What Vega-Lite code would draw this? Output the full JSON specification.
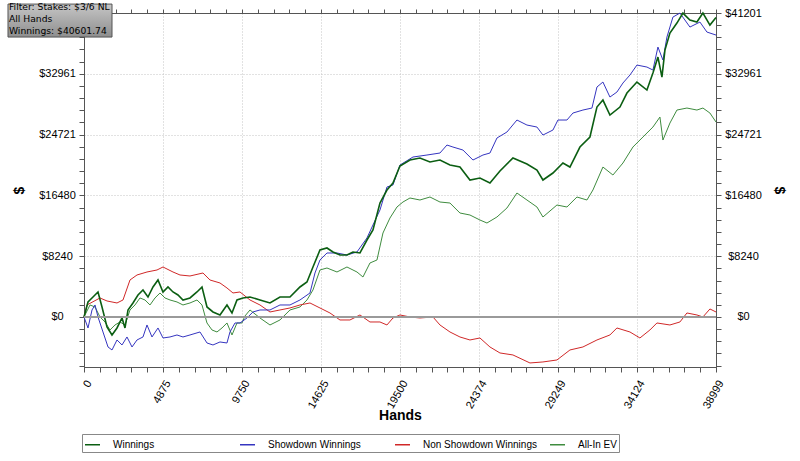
{
  "$schema": "https://vega.github.io/schema/vega-lite/v6.json",
  "width": 632,
  "height": 354,
  "autosize": {"type": "none"},
  "padding": {"left": 84, "top": 13, "right": 84, "bottom": 94},
  "background": "white",
  "config": {
    "font": "Liberation Sans",
    "view": {"stroke": "#555"},
    "axis": {
      "labelFont": "Liberation Sans",
      "labelFontSize": 11,
      "labelColor": "#000",
      "domainColor": "#555",
      "tickColor": "#555",
      "tickSize": 5,
      "gridColor": "#c4c4c4",
      "gridDash": [1, 2],
      "labelFlush": false,
      "labelOverlap": false,
      "titleFont": "Liberation Sans",
      "titleFontWeight": "bold",
      "titleFontSize": 14,
      "titleColor": "#000"
    }
  },
  "datasets": {
    "graph": [
      {"series": "All-In EV", "hands": 0, "dollars": 0},
      {"series": "All-In EV", "hands": 370, "dollars": 1626},
      {"series": "All-In EV", "hands": 679, "dollars": 1355},
      {"series": "All-In EV", "hands": 987, "dollars": 0},
      {"series": "All-In EV", "hands": 1296, "dollars": -678},
      {"series": "All-In EV", "hands": 1604, "dollars": -1762},
      {"series": "All-In EV", "hands": 1913, "dollars": -1084},
      {"series": "All-In EV", "hands": 2221, "dollars": -678},
      {"series": "All-In EV", "hands": 2530, "dollars": -1084},
      {"series": "All-In EV", "hands": 2838, "dollars": 949},
      {"series": "All-In EV", "hands": 3147, "dollars": 1626},
      {"series": "All-In EV", "hands": 3455, "dollars": 2575},
      {"series": "All-In EV", "hands": 3764, "dollars": 2304},
      {"series": "All-In EV", "hands": 4072, "dollars": 1626},
      {"series": "All-In EV", "hands": 4381, "dollars": 2575},
      {"series": "All-In EV", "hands": 4689, "dollars": 3252},
      {"series": "All-In EV", "hands": 4998, "dollars": 2575},
      {"series": "All-In EV", "hands": 5306, "dollars": 2304},
      {"series": "All-In EV", "hands": 5738, "dollars": 2033},
      {"series": "All-In EV", "hands": 6108, "dollars": 1626},
      {"series": "All-In EV", "hands": 6540, "dollars": 1897},
      {"series": "All-In EV", "hands": 6972, "dollars": 2304},
      {"series": "All-In EV", "hands": 7281, "dollars": 1626},
      {"series": "All-In EV", "hands": 7589, "dollars": -813},
      {"series": "All-In EV", "hands": 7898, "dollars": -1762},
      {"series": "All-In EV", "hands": 8206, "dollars": -2033},
      {"series": "All-In EV", "hands": 8515, "dollars": -1491},
      {"series": "All-In EV", "hands": 8823, "dollars": -813},
      {"series": "All-In EV", "hands": 9132, "dollars": -2439},
      {"series": "All-In EV", "hands": 9440, "dollars": -813},
      {"series": "All-In EV", "hands": 9749, "dollars": -813},
      {"series": "All-In EV", "hands": 9934, "dollars": 136},
      {"series": "All-In EV", "hands": 10242, "dollars": 949},
      {"series": "All-In EV", "hands": 10859, "dollars": -136},
      {"series": "All-In EV", "hands": 11476, "dollars": -1084},
      {"series": "All-In EV", "hands": 12093, "dollars": -407},
      {"series": "All-In EV", "hands": 12710, "dollars": 949},
      {"series": "All-In EV", "hands": 13327, "dollars": 1355},
      {"series": "All-In EV", "hands": 13759, "dollars": 2304},
      {"series": "All-In EV", "hands": 14129, "dollars": 3659},
      {"series": "All-In EV", "hands": 14561, "dollars": 6369},
      {"series": "All-In EV", "hands": 14993, "dollars": 6640},
      {"series": "All-In EV", "hands": 15610, "dollars": 6098},
      {"series": "All-In EV", "hands": 16227, "dollars": 6775},
      {"series": "All-In EV", "hands": 16844, "dollars": 6098},
      {"series": "All-In EV", "hands": 17214, "dollars": 5420},
      {"series": "All-In EV", "hands": 17646, "dollars": 7317},
      {"series": "All-In EV", "hands": 18078, "dollars": 7724},
      {"series": "All-In EV", "hands": 18448, "dollars": 11382},
      {"series": "All-In EV", "hands": 18880, "dollars": 13415},
      {"series": "All-In EV", "hands": 19312, "dollars": 14905},
      {"series": "All-In EV", "hands": 19682, "dollars": 15583},
      {"series": "All-In EV", "hands": 20114, "dollars": 16125},
      {"series": "All-In EV", "hands": 20731, "dollars": 15854},
      {"series": "All-In EV", "hands": 21348, "dollars": 16260},
      {"series": "All-In EV", "hands": 21965, "dollars": 15583},
      {"series": "All-In EV", "hands": 22582, "dollars": 15447},
      {"series": "All-In EV", "hands": 23199, "dollars": 14092},
      {"series": "All-In EV", "hands": 23816, "dollars": 13821},
      {"series": "All-In EV", "hands": 24433, "dollars": 13144},
      {"series": "All-In EV", "hands": 24865, "dollars": 12737},
      {"series": "All-In EV", "hands": 25482, "dollars": 13550},
      {"series": "All-In EV", "hands": 26099, "dollars": 14770},
      {"series": "All-In EV", "hands": 26716, "dollars": 16802},
      {"series": "All-In EV", "hands": 27333, "dollars": 15854},
      {"series": "All-In EV", "hands": 27950, "dollars": 14905},
      {"series": "All-In EV", "hands": 28320, "dollars": 13550},
      {"series": "All-In EV", "hands": 29184, "dollars": 15176},
      {"series": "All-In EV", "hands": 29801, "dollars": 14905},
      {"series": "All-In EV", "hands": 30418, "dollars": 16260},
      {"series": "All-In EV", "hands": 31035, "dollars": 15854},
      {"series": "All-In EV", "hands": 31405, "dollars": 17209},
      {"series": "All-In EV", "hands": 32022, "dollars": 20325},
      {"series": "All-In EV", "hands": 32639, "dollars": 19241},
      {"series": "All-In EV", "hands": 33256, "dollars": 20867},
      {"series": "All-In EV", "hands": 33873, "dollars": 23035},
      {"series": "All-In EV", "hands": 34490, "dollars": 24390},
      {"series": "All-In EV", "hands": 35107, "dollars": 25745},
      {"series": "All-In EV", "hands": 35539, "dollars": 27100},
      {"series": "All-In EV", "hands": 35724, "dollars": 23984},
      {"series": "All-In EV", "hands": 36156, "dollars": 26287},
      {"series": "All-In EV", "hands": 36588, "dollars": 28049},
      {"series": "All-In EV", "hands": 37205, "dollars": 28320},
      {"series": "All-In EV", "hands": 37822, "dollars": 28049},
      {"series": "All-In EV", "hands": 38192, "dollars": 28320},
      {"series": "All-In EV", "hands": 38624, "dollars": 27642},
      {"series": "All-In EV", "hands": 38999, "dollars": 26423},

      {"series": "Non Showdown Winnings", "hands": 0, "dollars": 0},
      {"series": "Non Showdown Winnings", "hands": 185, "dollars": 1626},
      {"series": "Non Showdown Winnings", "hands": 987, "dollars": 2575},
      {"series": "Non Showdown Winnings", "hands": 1419, "dollars": 2168},
      {"series": "Non Showdown Winnings", "hands": 2036, "dollars": 1897},
      {"series": "Non Showdown Winnings", "hands": 2406, "dollars": 2304},
      {"series": "Non Showdown Winnings", "hands": 2838, "dollars": 5014},
      {"series": "Non Showdown Winnings", "hands": 3270, "dollars": 5691},
      {"series": "Non Showdown Winnings", "hands": 3887, "dollars": 6098},
      {"series": "Non Showdown Winnings", "hands": 4504, "dollars": 6369},
      {"series": "Non Showdown Winnings", "hands": 4874, "dollars": 6775},
      {"series": "Non Showdown Winnings", "hands": 5491, "dollars": 6098},
      {"series": "Non Showdown Winnings", "hands": 5923, "dollars": 5691},
      {"series": "Non Showdown Winnings", "hands": 6540, "dollars": 5556},
      {"series": "Non Showdown Winnings", "hands": 7342, "dollars": 5962},
      {"series": "Non Showdown Winnings", "hands": 7774, "dollars": 5014},
      {"series": "Non Showdown Winnings", "hands": 8391, "dollars": 4608},
      {"series": "Non Showdown Winnings", "hands": 8823, "dollars": 3930},
      {"series": "Non Showdown Winnings", "hands": 9193, "dollars": 3253},
      {"series": "Non Showdown Winnings", "hands": 9625, "dollars": 3388},
      {"series": "Non Showdown Winnings", "hands": 10242, "dollars": 2304},
      {"series": "Non Showdown Winnings", "hands": 10859, "dollars": 1626},
      {"series": "Non Showdown Winnings", "hands": 11476, "dollars": 678},
      {"series": "Non Showdown Winnings", "hands": 12093, "dollars": 949},
      {"series": "Non Showdown Winnings", "hands": 12710, "dollars": 1220},
      {"series": "Non Showdown Winnings", "hands": 13327, "dollars": 1626},
      {"series": "Non Showdown Winnings", "hands": 13944, "dollars": 1897},
      {"series": "Non Showdown Winnings", "hands": 14561, "dollars": 1220},
      {"series": "Non Showdown Winnings", "hands": 15178, "dollars": 542},
      {"series": "Non Showdown Winnings", "hands": 15795, "dollars": -407},
      {"series": "Non Showdown Winnings", "hands": 16412, "dollars": -407},
      {"series": "Non Showdown Winnings", "hands": 17029, "dollars": 271},
      {"series": "Non Showdown Winnings", "hands": 17646, "dollars": -678},
      {"series": "Non Showdown Winnings", "hands": 18263, "dollars": -678},
      {"series": "Non Showdown Winnings", "hands": 18695, "dollars": -1084},
      {"series": "Non Showdown Winnings", "hands": 19065, "dollars": -136},
      {"series": "Non Showdown Winnings", "hands": 19497, "dollars": 271},
      {"series": "Non Showdown Winnings", "hands": 20114, "dollars": 0},
      {"series": "Non Showdown Winnings", "hands": 20731, "dollars": -136},
      {"series": "Non Showdown Winnings", "hands": 21533, "dollars": 0},
      {"series": "Non Showdown Winnings", "hands": 21965, "dollars": -1084},
      {"series": "Non Showdown Winnings", "hands": 22582, "dollars": -2033},
      {"series": "Non Showdown Winnings", "hands": 23199, "dollars": -2710},
      {"series": "Non Showdown Winnings", "hands": 23816, "dollars": -3117},
      {"series": "Non Showdown Winnings", "hands": 24433, "dollars": -2846},
      {"series": "Non Showdown Winnings", "hands": 25050, "dollars": -4065},
      {"series": "Non Showdown Winnings", "hands": 25667, "dollars": -4878},
      {"series": "Non Showdown Winnings", "hands": 26469, "dollars": -5149},
      {"series": "Non Showdown Winnings", "hands": 27518, "dollars": -6233},
      {"series": "Non Showdown Winnings", "hands": 28320, "dollars": -6098},
      {"series": "Non Showdown Winnings", "hands": 29184, "dollars": -5827},
      {"series": "Non Showdown Winnings", "hands": 29986, "dollars": -4472},
      {"series": "Non Showdown Winnings", "hands": 30788, "dollars": -4065},
      {"series": "Non Showdown Winnings", "hands": 31652, "dollars": -3117},
      {"series": "Non Showdown Winnings", "hands": 32454, "dollars": -2439},
      {"series": "Non Showdown Winnings", "hands": 32886, "dollars": -1491},
      {"series": "Non Showdown Winnings", "hands": 33688, "dollars": -2033},
      {"series": "Non Showdown Winnings", "hands": 34305, "dollars": -2846},
      {"series": "Non Showdown Winnings", "hands": 34922, "dollars": -1762},
      {"series": "Non Showdown Winnings", "hands": 35354, "dollars": -813},
      {"series": "Non Showdown Winnings", "hands": 36156, "dollars": -1084},
      {"series": "Non Showdown Winnings", "hands": 36773, "dollars": -678},
      {"series": "Non Showdown Winnings", "hands": 37205, "dollars": 542},
      {"series": "Non Showdown Winnings", "hands": 37822, "dollars": 271},
      {"series": "Non Showdown Winnings", "hands": 38192, "dollars": 0},
      {"series": "Non Showdown Winnings", "hands": 38624, "dollars": 1084},
      {"series": "Non Showdown Winnings", "hands": 38999, "dollars": 678},

      {"series": "Showdown Winnings", "hands": 0, "dollars": 0},
      {"series": "Showdown Winnings", "hands": 247, "dollars": -1491},
      {"series": "Showdown Winnings", "hands": 494, "dollars": 949},
      {"series": "Showdown Winnings", "hands": 679, "dollars": 1626},
      {"series": "Showdown Winnings", "hands": 864, "dollars": 0},
      {"series": "Showdown Winnings", "hands": 1172, "dollars": -2033},
      {"series": "Showdown Winnings", "hands": 1481, "dollars": -4065},
      {"series": "Showdown Winnings", "hands": 1728, "dollars": -4472},
      {"series": "Showdown Winnings", "hands": 2036, "dollars": -3117},
      {"series": "Showdown Winnings", "hands": 2345, "dollars": -3794},
      {"series": "Showdown Winnings", "hands": 2653, "dollars": -2710},
      {"series": "Showdown Winnings", "hands": 2962, "dollars": -4065},
      {"series": "Showdown Winnings", "hands": 3270, "dollars": -3117},
      {"series": "Showdown Winnings", "hands": 3640, "dollars": -2710},
      {"series": "Showdown Winnings", "hands": 3887, "dollars": -1084},
      {"series": "Showdown Winnings", "hands": 4196, "dollars": -2710},
      {"series": "Showdown Winnings", "hands": 4566, "dollars": -1491},
      {"series": "Showdown Winnings", "hands": 4874, "dollars": -2846},
      {"series": "Showdown Winnings", "hands": 5306, "dollars": -2710},
      {"series": "Showdown Winnings", "hands": 5738, "dollars": -2439},
      {"series": "Showdown Winnings", "hands": 6108, "dollars": -2710},
      {"series": "Showdown Winnings", "hands": 6540, "dollars": -2439},
      {"series": "Showdown Winnings", "hands": 7157, "dollars": -2033},
      {"series": "Showdown Winnings", "hands": 7589, "dollars": -3523},
      {"series": "Showdown Winnings", "hands": 7959, "dollars": -3794},
      {"series": "Showdown Winnings", "hands": 8391, "dollars": -3388},
      {"series": "Showdown Winnings", "hands": 8823, "dollars": -3523},
      {"series": "Showdown Winnings", "hands": 9008, "dollars": -2033},
      {"series": "Showdown Winnings", "hands": 9317, "dollars": -813},
      {"series": "Showdown Winnings", "hands": 9625, "dollars": -813},
      {"series": "Showdown Winnings", "hands": 10057, "dollars": -136},
      {"series": "Showdown Winnings", "hands": 10427, "dollars": 678},
      {"series": "Showdown Winnings", "hands": 10859, "dollars": 949},
      {"series": "Showdown Winnings", "hands": 11476, "dollars": 949},
      {"series": "Showdown Winnings", "hands": 12093, "dollars": 1626},
      {"series": "Showdown Winnings", "hands": 12710, "dollars": 1626},
      {"series": "Showdown Winnings", "hands": 13327, "dollars": 2304},
      {"series": "Showdown Winnings", "hands": 13944, "dollars": 3252},
      {"series": "Showdown Winnings", "hands": 14253, "dollars": 5962},
      {"series": "Showdown Winnings", "hands": 14561, "dollars": 7724},
      {"series": "Showdown Winnings", "hands": 14993, "dollars": 8672},
      {"series": "Showdown Winnings", "hands": 15610, "dollars": 8672},
      {"series": "Showdown Winnings", "hands": 16227, "dollars": 8401},
      {"series": "Showdown Winnings", "hands": 16844, "dollars": 8808},
      {"series": "Showdown Winnings", "hands": 17461, "dollars": 10705},
      {"series": "Showdown Winnings", "hands": 17831, "dollars": 12466},
      {"series": "Showdown Winnings", "hands": 18263, "dollars": 14499},
      {"series": "Showdown Winnings", "hands": 18695, "dollars": 17615},
      {"series": "Showdown Winnings", "hands": 19065, "dollars": 17886},
      {"series": "Showdown Winnings", "hands": 19497, "dollars": 20596},
      {"series": "Showdown Winnings", "hands": 20299, "dollars": 21680},
      {"series": "Showdown Winnings", "hands": 21163, "dollars": 21951},
      {"series": "Showdown Winnings", "hands": 21965, "dollars": 22222},
      {"series": "Showdown Winnings", "hands": 22397, "dollars": 23306},
      {"series": "Showdown Winnings", "hands": 22767, "dollars": 23035},
      {"series": "Showdown Winnings", "hands": 23384, "dollars": 22629},
      {"series": "Showdown Winnings", "hands": 24001, "dollars": 21274},
      {"series": "Showdown Winnings", "hands": 24618, "dollars": 21951},
      {"series": "Showdown Winnings", "hands": 25050, "dollars": 22222},
      {"series": "Showdown Winnings", "hands": 25482, "dollars": 24255},
      {"series": "Showdown Winnings", "hands": 26099, "dollars": 25068},
      {"series": "Showdown Winnings", "hands": 26716, "dollars": 26694},
      {"series": "Showdown Winnings", "hands": 27333, "dollars": 26016},
      {"series": "Showdown Winnings", "hands": 27950, "dollars": 25745},
      {"series": "Showdown Winnings", "hands": 28320, "dollars": 24661},
      {"series": "Showdown Winnings", "hands": 28937, "dollars": 25339},
      {"series": "Showdown Winnings", "hands": 29246, "dollars": 26694},
      {"series": "Showdown Winnings", "hands": 29801, "dollars": 26694},
      {"series": "Showdown Winnings", "hands": 30171, "dollars": 27642},
      {"series": "Showdown Winnings", "hands": 30788, "dollars": 28049},
      {"series": "Showdown Winnings", "hands": 31344, "dollars": 28320},
      {"series": "Showdown Winnings", "hands": 31652, "dollars": 31165},
      {"series": "Showdown Winnings", "hands": 32022, "dollars": 31843},
      {"series": "Showdown Winnings", "hands": 32454, "dollars": 29810},
      {"series": "Showdown Winnings", "hands": 32886, "dollars": 30488},
      {"series": "Showdown Winnings", "hands": 33256, "dollars": 31707},
      {"series": "Showdown Winnings", "hands": 33688, "dollars": 32791},
      {"series": "Showdown Winnings", "hands": 34120, "dollars": 34146},
      {"series": "Showdown Winnings", "hands": 34737, "dollars": 33875},
      {"series": "Showdown Winnings", "hands": 35107, "dollars": 33469},
      {"series": "Showdown Winnings", "hands": 35416, "dollars": 36585},
      {"series": "Showdown Winnings", "hands": 35724, "dollars": 34824},
      {"series": "Showdown Winnings", "hands": 35971, "dollars": 37940},
      {"series": "Showdown Winnings", "hands": 36341, "dollars": 40650},
      {"series": "Showdown Winnings", "hands": 36773, "dollars": 41192},
      {"series": "Showdown Winnings", "hands": 37390, "dollars": 39295},
      {"series": "Showdown Winnings", "hands": 38007, "dollars": 39973},
      {"series": "Showdown Winnings", "hands": 38439, "dollars": 38618},
      {"series": "Showdown Winnings", "hands": 38999, "dollars": 38211},

      {"series": "Winnings", "hands": 0, "dollars": 0},
      {"series": "Winnings", "hands": 247, "dollars": 2033},
      {"series": "Winnings", "hands": 555, "dollars": 2710},
      {"series": "Winnings", "hands": 864, "dollars": 3388},
      {"series": "Winnings", "hands": 1111, "dollars": 1355},
      {"series": "Winnings", "hands": 1419, "dollars": -1355},
      {"series": "Winnings", "hands": 1728, "dollars": -2439},
      {"series": "Winnings", "hands": 2036, "dollars": -1491},
      {"series": "Winnings", "hands": 2345, "dollars": -136},
      {"series": "Winnings", "hands": 2530, "dollars": -1491},
      {"series": "Winnings", "hands": 2715, "dollars": 949},
      {"series": "Winnings", "hands": 3023, "dollars": 1897},
      {"series": "Winnings", "hands": 3332, "dollars": 2981},
      {"series": "Winnings", "hands": 3640, "dollars": 3659},
      {"series": "Winnings", "hands": 3949, "dollars": 2710},
      {"series": "Winnings", "hands": 4257, "dollars": 4065},
      {"series": "Winnings", "hands": 4566, "dollars": 5014},
      {"series": "Winnings", "hands": 4874, "dollars": 3388},
      {"series": "Winnings", "hands": 5183, "dollars": 4065},
      {"series": "Winnings", "hands": 5491, "dollars": 3388},
      {"series": "Winnings", "hands": 5800, "dollars": 2981},
      {"series": "Winnings", "hands": 6108, "dollars": 2304},
      {"series": "Winnings", "hands": 6540, "dollars": 2575},
      {"series": "Winnings", "hands": 6972, "dollars": 3388},
      {"series": "Winnings", "hands": 7281, "dollars": 4065},
      {"series": "Winnings", "hands": 7589, "dollars": 1355},
      {"series": "Winnings", "hands": 7959, "dollars": 678},
      {"series": "Winnings", "hands": 8391, "dollars": 271},
      {"series": "Winnings", "hands": 8823, "dollars": 1626},
      {"series": "Winnings", "hands": 9132, "dollars": 542},
      {"series": "Winnings", "hands": 9440, "dollars": 2304},
      {"series": "Winnings", "hands": 9810, "dollars": 2575},
      {"series": "Winnings", "hands": 10242, "dollars": 2710},
      {"series": "Winnings", "hands": 10859, "dollars": 2304},
      {"series": "Winnings", "hands": 11476, "dollars": 1897},
      {"series": "Winnings", "hands": 12093, "dollars": 2710},
      {"series": "Winnings", "hands": 12710, "dollars": 2710},
      {"series": "Winnings", "hands": 13327, "dollars": 4065},
      {"series": "Winnings", "hands": 13759, "dollars": 4743},
      {"series": "Winnings", "hands": 14129, "dollars": 6775},
      {"series": "Winnings", "hands": 14561, "dollars": 9079},
      {"series": "Winnings", "hands": 14993, "dollars": 9350},
      {"series": "Winnings", "hands": 15363, "dollars": 8808},
      {"series": "Winnings", "hands": 15795, "dollars": 8401},
      {"series": "Winnings", "hands": 16227, "dollars": 8401},
      {"series": "Winnings", "hands": 16597, "dollars": 8808},
      {"series": "Winnings", "hands": 17029, "dollars": 8672},
      {"series": "Winnings", "hands": 17461, "dollars": 10434},
      {"series": "Winnings", "hands": 17831, "dollars": 11789},
      {"series": "Winnings", "hands": 18263, "dollars": 15447},
      {"series": "Winnings", "hands": 18695, "dollars": 17209},
      {"series": "Winnings", "hands": 19065, "dollars": 18157},
      {"series": "Winnings", "hands": 19497, "dollars": 20461},
      {"series": "Winnings", "hands": 20114, "dollars": 21274},
      {"series": "Winnings", "hands": 20731, "dollars": 21545},
      {"series": "Winnings", "hands": 21348, "dollars": 21003},
      {"series": "Winnings", "hands": 21965, "dollars": 21274},
      {"series": "Winnings", "hands": 22582, "dollars": 20596},
      {"series": "Winnings", "hands": 23199, "dollars": 20325},
      {"series": "Winnings", "hands": 23816, "dollars": 18564},
      {"series": "Winnings", "hands": 24433, "dollars": 18835},
      {"series": "Winnings", "hands": 25050, "dollars": 18157},
      {"series": "Winnings", "hands": 25667, "dollars": 19783},
      {"series": "Winnings", "hands": 26469, "dollars": 21545},
      {"series": "Winnings", "hands": 27333, "dollars": 20732},
      {"series": "Winnings", "hands": 27950, "dollars": 19919},
      {"series": "Winnings", "hands": 28320, "dollars": 18564},
      {"series": "Winnings", "hands": 28937, "dollars": 19512},
      {"series": "Winnings", "hands": 29554, "dollars": 20867},
      {"series": "Winnings", "hands": 29986, "dollars": 20325},
      {"series": "Winnings", "hands": 30603, "dollars": 23035},
      {"series": "Winnings", "hands": 31220, "dollars": 24390},
      {"series": "Winnings", "hands": 31652, "dollars": 28455},
      {"series": "Winnings", "hands": 32022, "dollars": 29404},
      {"series": "Winnings", "hands": 32454, "dollars": 27371},
      {"series": "Winnings", "hands": 33071, "dollars": 28455},
      {"series": "Winnings", "hands": 33503, "dollars": 30352},
      {"series": "Winnings", "hands": 34120, "dollars": 31843},
      {"series": "Winnings", "hands": 34737, "dollars": 30759},
      {"series": "Winnings", "hands": 35107, "dollars": 33062},
      {"series": "Winnings", "hands": 35416, "dollars": 35230},
      {"series": "Winnings", "hands": 35663, "dollars": 32520},
      {"series": "Winnings", "hands": 35848, "dollars": 36179},
      {"series": "Winnings", "hands": 36156, "dollars": 38482},
      {"series": "Winnings", "hands": 36588, "dollars": 39837},
      {"series": "Winnings", "hands": 36958, "dollars": 41192},
      {"series": "Winnings", "hands": 37390, "dollars": 40244},
      {"series": "Winnings", "hands": 37822, "dollars": 39973},
      {"series": "Winnings", "hands": 38192, "dollars": 41192},
      {"series": "Winnings", "hands": 38624, "dollars": 39566},
      {"series": "Winnings", "hands": 38999, "dollars": 40601.74}
    ]
  },
  "layer": [
    {
      "data": {"name": "graph"},
      "mark": {"type": "line"},
      "encoding": {
        "x": {
          "field": "hands",
          "type": "quantitative",
          "scale": {"domain": [0, 38999], "nice": false, "zero": false},
          "axis": {
            "orient": "bottom",
            "title": "Hands",
            "values": [0, 974.975, 1949.95, 2924.925, 3899.9, 4874.875, 5849.85, 6824.825, 7799.8, 8774.775, 9749.75, 10724.725, 11699.7, 12674.675, 13649.65, 14624.625, 15599.6, 16574.575, 17549.55, 18524.525, 19499.5, 20474.475, 21449.45, 22424.425, 23399.4, 24374.375, 25349.35, 26324.325, 27299.3, 28274.275, 29249.25, 30224.225, 31199.2, 32174.175, 33149.15, 34124.125, 35099.1, 36074.075, 37049.05, 38024.025, 38999],
            "labelExpr": "round(datum.value / 974.975) % 5 == 0 ? format(round(datum.value), 'd') : ''",
            "labelAngle": -60,
            "labelAlign": "right",
            "labelBaseline": "middle",
            "labelPadding": 9,
            "labelOffset": 5,
            "titlePadding": -1,
            "gridOpacity": {"condition": {"test": "round(datum.value / 974.975) % 5 == 0", "value": 1}, "value": 0}
          }
        },
        "y": {
          "field": "dollars",
          "type": "quantitative",
          "scale": {"domain": [-6780, 41201], "nice": false, "zero": false},
          "axis": {
            "orient": "left",
            "title": "$",
            "values": [-6592.16, -4944.12, -3296.08, -1648.04, 0, 1648.04, 3296.08, 4944.12, 6592.16, 8240.2, 9888.24, 11536.28, 13184.32, 14832.36, 16480.4, 18128.44, 19776.48, 21424.52, 23072.56, 24720.6, 26368.64, 28016.68, 29664.72, 31312.76, 32960.8, 34608.84, 36256.88, 37904.92, 39552.96, 41201],
            "labelExpr": "datum.value > -1 && round(datum.value / 1648.04) % 5 == 0 ? '$' + format(round(datum.value), 'd') : ''",
            "labelAlign": "center",
            "labelPadding": 22,
            "titlePadding": 12,
            "gridOpacity": {"condition": {"test": "datum.value > 1 && round(datum.value / 1648.04) % 5 == 0", "value": 1}, "value": 0}
          }
        },
        "color": {
          "field": "series",
          "type": "nominal",
          "scale": {
            "domain": ["Winnings", "Showdown Winnings", "Non Showdown Winnings", "All-In EV"],
            "range": ["#0b5e12", "#3535c0", "#d02828", "#3f8c3f"]
          },
          "legend": {
            "title": null,
            "orient": "none",
            "legendX": -2,
            "legendY": 421,
            "direction": "horizontal",
            "columns": 4,
            "gridAlign": "all",
            "symbolType": "stroke",
            "symbolSize": 225,
            "symbolStrokeWidth": 1.5,
            "labelFont": "Liberation Sans",
            "labelFontSize": 10,
            "labelColor": "#000",
            "labelOffset": 12,
            "columnPadding": 10,
            "padding": 2,
            "strokeColor": "#888",
            "fillColor": "white"
          }
        },
        "strokeWidth": {"condition": {"test": "datum.series === 'Winnings'", "value": 1.6}, "value": 1}
      }
    },
    {
      "data": {"values": [{}]},
      "mark": {"type": "rule", "color": "#9a9a9a", "strokeWidth": 2},
      "encoding": {
        "y": {
          "datum": 0,
          "type": "quantitative",
          "axis": {
            "orient": "right",
            "title": "$",
            "values": [-6592.16, -4944.12, -3296.08, -1648.04, 0, 1648.04, 3296.08, 4944.12, 6592.16, 8240.2, 9888.24, 11536.28, 13184.32, 14832.36, 16480.4, 18128.44, 19776.48, 21424.52, 23072.56, 24720.6, 26368.64, 28016.68, 29664.72, 31312.76, 32960.8, 34608.84, 36256.88, 37904.92, 39552.96, 41201],
            "labelExpr": "datum.value > -1 && round(datum.value / 1648.04) % 5 == 0 ? '$' + format(round(datum.value), 'd') : ''",
            "labelAlign": "center",
            "labelPadding": 22,
            "titlePadding": 10,
            "grid": false
          }
        }
      }
    },
    {
      "data": {"values": [{}]},
      "mark": {
        "type": "rect",
        "stroke": "#555",
        "strokeWidth": 1,
        "fill": {
          "gradient": "linear",
          "x1": 0, "y1": 0, "x2": 0, "y2": 1,
          "stops": [
            {"offset": 0, "color": "#c6c6c6"},
            {"offset": 1, "color": "#8e8e8e"}
          ]
        }
      },
      "encoding": {
        "x": {
          "datum": -4690,
          "type": "quantitative",
          "axis": {
            "orient": "top",
            "title": null,
            "labels": false,
            "grid": false,
            "tickSize": 4,
            "values": [0, 974.975, 1949.95, 2924.925, 3899.9, 4874.875, 5849.85, 6824.825, 7799.8, 8774.775, 9749.75, 10724.725, 11699.7, 12674.675, 13649.65, 14624.625, 15599.6, 16574.575, 17549.55, 18524.525, 19499.5, 20474.475, 21449.45, 22424.425, 23399.4, 24374.375, 25349.35, 26324.325, 27299.3, 28274.275, 29249.25, 30224.225, 31199.2, 32174.175, 33149.15, 34124.125, 35099.1, 36074.075, 37049.05, 38024.025, 38999]
          }
        },
        "x2": {"datum": 1728},
        "y": {"datum": 42412, "type": "quantitative", "axis": null},
        "y2": {"datum": 37940}
      }
    },
    {
      "data": {"values": [{"info": "Filter: Stakes: $3/6 NL\nAll Hands\nWinnings: $40601.74"}]},
      "mark": {
        "type": "text",
        "align": "left",
        "baseline": "top",
        "lineBreak": "\n",
        "lineHeight": 12,
        "font": "DejaVu Sans",
        "fontSize": 9.2,
        "color": "#000"
      },
      "encoding": {
        "x": {"datum": -4630, "type": "quantitative", "axis": null},
        "y": {"datum": 42600, "type": "quantitative", "axis": null},
        "text": {"field": "info", "type": "nominal"}
      }
    }
  ],
  "resolve": {"axis": {"x": "independent", "y": "independent"}}
}
